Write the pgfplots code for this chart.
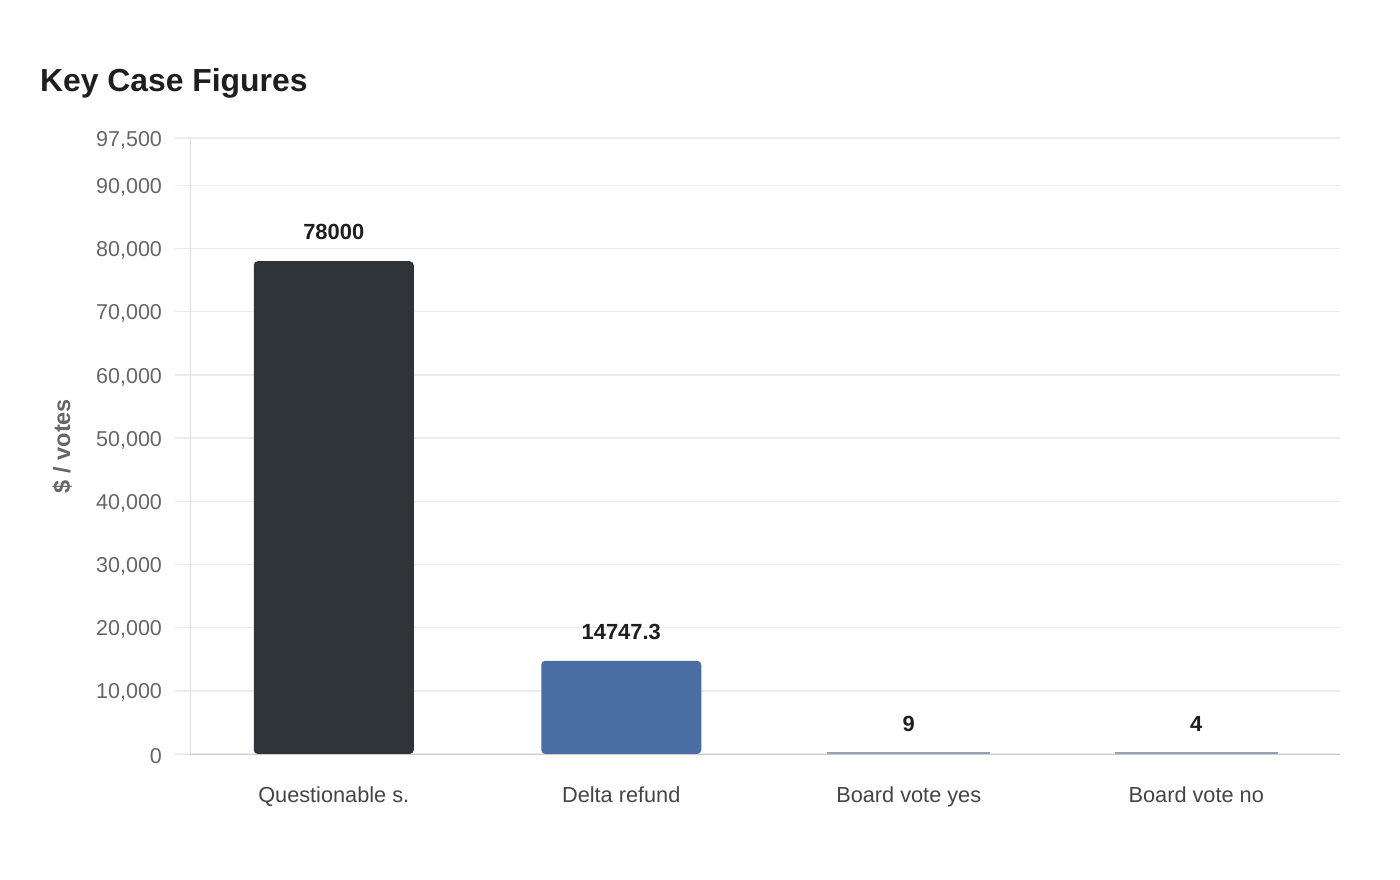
\documentclass[border=0pt]{standalone}
\usepackage{pgfplots}
\pgfplotsset{compat=1.18}
\usepackage{fontspec}
\setmainfont{Liberation Sans}

\definecolor{bardark}{HTML}{2E3437}
\definecolor{barblue}{HTML}{4A6DA3}
\definecolor{barthin}{HTML}{95A2AF}
\definecolor{gridc}{HTML}{EBEBEB}
\definecolor{ticktext}{HTML}{666666}
\definecolor{cattext}{HTML}{444444}
\definecolor{titletext}{HTML}{1E1E1E}

\begin{document}
\begin{tikzpicture}
\useasboundingbox[fill=white] (0,0) rectangle (700bp,440bp);

\node[anchor=west, text=titletext, font=\fontsize{16}{19}\selectfont\bfseries]
  at (16.5bp,398.5bp) {Key Case Figures};

\begin{axis}[
    at={(95bp,63bp)}, anchor=south west,
    scale only axis,
    width=575bp, height=308bp,
    xmin=-0.5, xmax=3.5,
    ymin=0, ymax=97500,
    xtick={0,1,2,3},
    xticklabels={Questionable s., Delta refund, Board vote yes, Board vote no},
    ytick={0,10000,20000,30000,40000,50000,60000,70000,80000,90000,97500},
    scaled y ticks=false,
    /pgf/number format/assume math mode=true,
    yticklabel={\pgfmathprintnumber[fixed, 1000 sep={,}]{\tick}},
    axis x line*=bottom, axis y line*=left,
    x axis line style={-, draw=black!20},
    y axis line style={-, draw=black!13},
    ymajorgrids, grid style={draw=gridc, line width=0.75bp},
    major x tick style={draw=none},
    major y tick style={draw=gridc, line width=0.75bp},
    tick align=outside, major tick length=7.5bp,
    yticklabel style={text=ticktext, anchor=east, xshift=-3bp, yshift=-1bp,
      font=\fontsize{10.8}{12}\selectfont},
    xticklabel style={text=cattext, yshift=-5.5bp,
      font=\fontsize{10.9}{12}\selectfont},
    ylabel={\$ / votes},
    ylabel style={at={(axis description cs:-0.111,0.5)}, anchor=center,
      text=ticktext, font=\fontsize{11.8}{13}\selectfont\bfseries},
    ybar, bar width=80bp, bar shift=0pt,
    point meta=explicit symbolic,
    nodes near coords={\pgfplotspointmeta},
    every node near coord/.append style={text=titletext,
      font=\fontsize{11}{12}\selectfont\bfseries, anchor=south, yshift=7bp},
]
\addplot[fill=bardark, draw=none, rounded corners=2bp]
  coordinates {(0,78000) [78000]};
\addplot[fill=barblue, draw=none, rounded corners=2bp]
  coordinates {(1,14747.3) [14747.3]};
\addplot[fill=barthin, draw=barthin, line width=1.5bp]
  coordinates {(2,9) [9] (3,4) [4]};
\end{axis}
\end{tikzpicture}
\end{document}
